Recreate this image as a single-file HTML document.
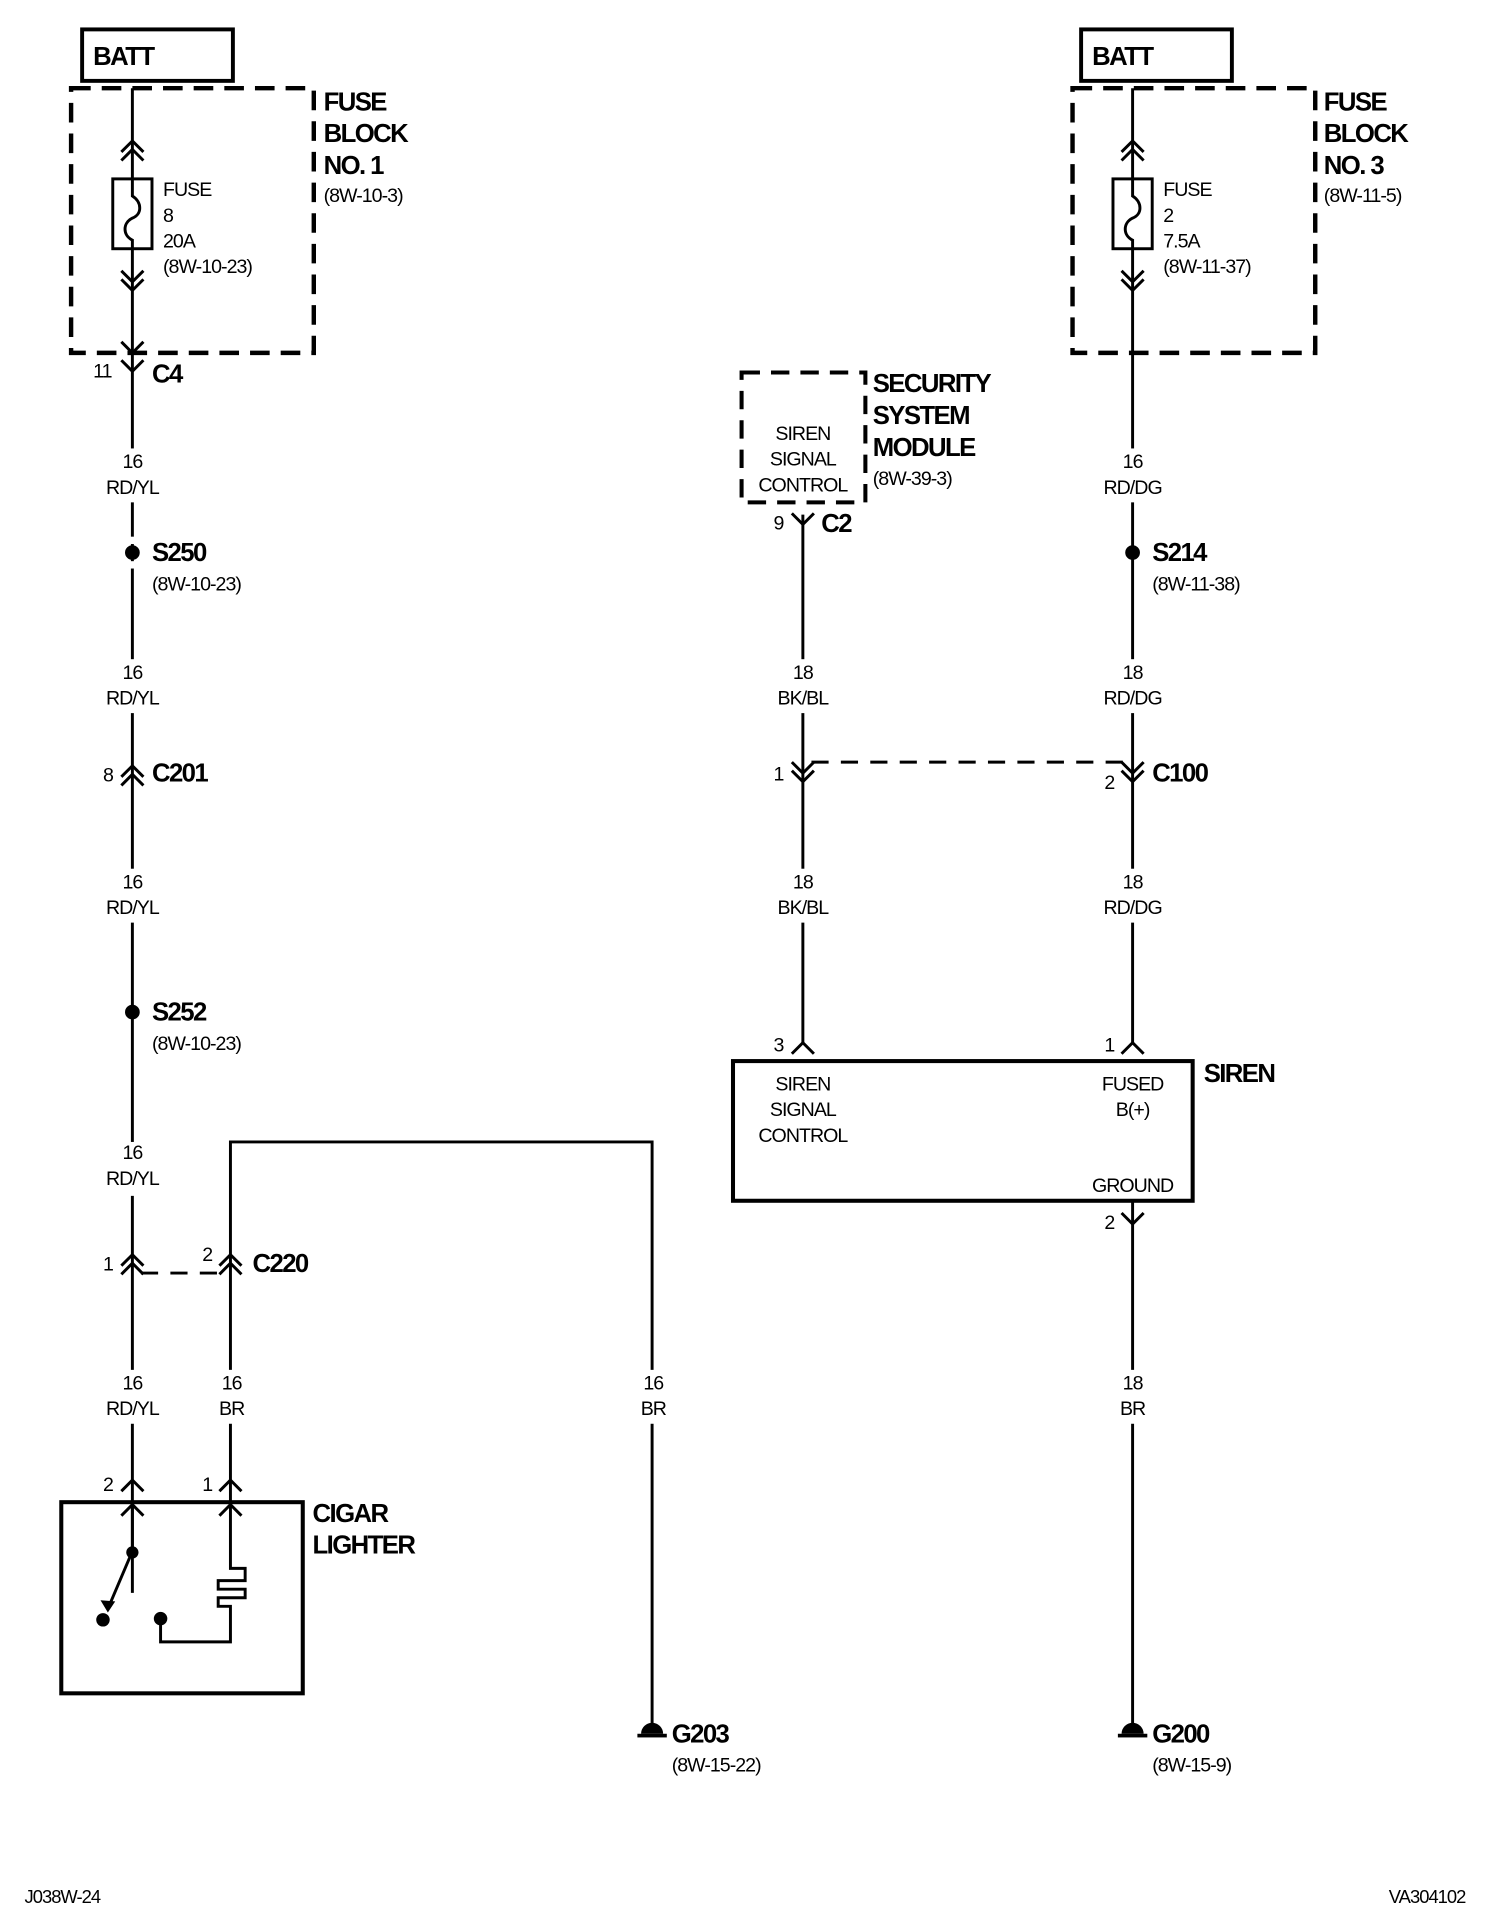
<!DOCTYPE html>
<html><head><meta charset="utf-8"><style>
html,body{margin:0;padding:0;background:#fff;}
svg{display:block;}
text{font-family:"Liberation Sans",sans-serif;fill:#000;}
.n{font-size:16px;letter-spacing:-0.8px;}
.b{font-size:21px;font-weight:bold;letter-spacing:-1.3px;}
.c{text-anchor:middle;}
</style></head><body>
<svg width="1504" height="1920" viewBox="0 0 1227 1567" preserveAspectRatio="none" xmlns="http://www.w3.org/2000/svg">
<g fill="none" stroke="#000" stroke-width="2.4">
<path d="M108 72 V1300"/>
<path d="M188 1228 V932 H532 V1410"/>
<path d="M655 420 V851"/>
<path d="M924 72 V851"/>
<path d="M924 980 V1410"/>
<rect x="92" y="146" width="32" height="57" fill="#fff"/>
<rect x="908" y="146" width="32" height="57" fill="#fff"/>
<path d="M108 146 V160 C116 165 116 175 108 178 C100 182 100 192 108 196 V203"/>
<path d="M924 146 V160 C932 165 932 175 924 178 C916 182 916 192 924 196 V203"/>
<path d="M99 124 L108 115 L117 124 M99 131 L108 122 L117 131"/>
<path d="M99 221 L108 230 L117 221 M99 228 L108 237 L117 228"/>
<path d="M99 279 L108 288 L117 279"/>
<path d="M99 294 L108 303 L117 294"/>
<path d="M915 124 L924 115 L933 124 M915 131 L924 122 L933 131"/>
<path d="M915 221 L924 230 L933 221 M915 228 L924 237 L933 228"/>
<path d="M99 634 L108 625 L117 634 M99 641 L108 632 L117 641"/>
<path d="M99 1033 L108 1024 L117 1033 M99 1040 L108 1031 L117 1040"/>
<path d="M179 1033 L188 1024 L197 1033 M179 1040 L188 1031 L197 1040"/>
<path d="M646 622 L655 631 L664 622 M646 629 L655 638 L664 629"/>
<path d="M915 622 L924 631 L933 622 M915 629 L924 638 L933 629"/>
<path d="M646 419 L655 428 L664 419"/>
<path d="M646 860 L655 851 L664 860 M915 860 L924 851 L933 860"/>
<path d="M915 990 L924 999 L933 990"/>
<path d="M99 1217 L108 1208 L117 1217 M179 1217 L188 1208 L197 1217"/>
<path d="M99 1237 L108 1228 L117 1237 M179 1237 L188 1228 L197 1237"/>
<path d="M115 1039 H182" stroke-dasharray="14 10"/>
<path d="M662 622 H917" stroke-dasharray="14 10"/>
<rect x="67" y="24" width="123" height="42" stroke-width="3.2"/>
<rect x="882" y="24" width="123" height="42" stroke-width="3.2"/>
<rect x="58" y="72" width="198" height="216" stroke-width="3.6" stroke-dasharray="16 9"/>
<rect x="875" y="72" width="198" height="216" stroke-width="3.6" stroke-dasharray="16 9"/>
<rect x="605" y="304" width="101" height="106" stroke-width="3.3" stroke-dasharray="15 9"/>
<rect x="598" y="866" width="375" height="114" stroke-width="3.3" fill="#fff"/>
<rect x="50" y="1226" width="197" height="156" stroke-width="3.3"/>
<path d="M108 1228 V1266 M108 1266 L88 1313"/>
<path d="M188 1228 V1280 H200 V1290 H178 V1297 H200 V1304 H178 V1311 H188 V1340 H131 V1321"/>
</g>
<path d="M82 1306 L88 1316 L94 1307 Z" fill="#000"/>
<circle cx="108" cy="1267" r="5"/>
<circle cx="84" cy="1322" r="5.5"/>
<circle cx="131" cy="1321" r="5.5"/>
<circle cx="108" cy="451" r="6"/>
<circle cx="108" cy="826" r="6"/>
<circle cx="924" cy="451" r="6"/>
<path d="M523 1415 A9 9 0 0 1 541 1415 Z"/><rect x="520" y="1415" width="24" height="3"/>
<path d="M915 1415 A9 9 0 0 1 933 1415 Z"/><rect x="912" y="1415" width="24" height="3"/>
<g fill="#fff">
<rect x="80" y="366" width="56" height="44"/><rect x="80" y="538" width="56" height="44"/>
<rect x="80" y="709" width="56" height="44"/><rect x="80" y="932" width="56" height="44"/>
<rect x="80" y="1118" width="56" height="44"/><rect x="172" y="1118" width="32" height="44"/>
<rect x="516" y="1118" width="32" height="44"/>
<rect x="896" y="366" width="56" height="44"/><rect x="896" y="538" width="56" height="44"/>
<rect x="896" y="709" width="56" height="44"/><rect x="896" y="1118" width="56" height="44"/>
<rect x="627" y="538" width="56" height="44"/><rect x="627" y="709" width="56" height="44"/>
<rect x="100" y="438" width="16" height="6"/><rect x="100" y="458" width="16" height="6"/>
</g>
<text class="b" x="76" y="53">BATT</text>
<text class="b" x="891" y="53">BATT</text>
<text class="b" x="264" y="90">FUSE</text><text class="b" x="264" y="116">BLOCK</text><text class="b" x="264" y="142">NO. 1</text>
<text class="n" x="264" y="165">(8W-10-3)</text>
<text class="b" x="1080" y="90">FUSE</text><text class="b" x="1080" y="116">BLOCK</text><text class="b" x="1080" y="142">NO. 3</text>
<text class="n" x="1080" y="165">(8W-11-5)</text>
<text class="n" x="133" y="160">FUSE</text><text class="n" x="133" y="181">8</text><text class="n" x="133" y="202">20A</text><text class="n" x="133" y="223">(8W-10-23)</text>
<text class="n" x="949" y="160">FUSE</text><text class="n" x="949" y="181">2</text><text class="n" x="949" y="202">7.5A</text><text class="n" x="949" y="223">(8W-11-37)</text>
<text class="n" x="76" y="308">11</text><text class="b" x="124" y="312">C4</text>
<text class="n c" x="108" y="382">16</text><text class="n c" x="108" y="403">RD/YL</text>
<text class="n c" x="108" y="554">16</text><text class="n c" x="108" y="575">RD/YL</text>
<text class="n c" x="108" y="725">16</text><text class="n c" x="108" y="746">RD/YL</text>
<text class="n c" x="108" y="946">16</text><text class="n c" x="108" y="967">RD/YL</text>
<text class="n c" x="108" y="1134">16</text><text class="n c" x="108" y="1155">RD/YL</text>
<text class="n c" x="189" y="1134">16</text><text class="n c" x="189" y="1155">BR</text>
<text class="n c" x="533" y="1134">16</text><text class="n c" x="533" y="1155">BR</text>
<text class="n c" x="924" y="382">16</text><text class="n c" x="924" y="403">RD/DG</text>
<text class="n c" x="924" y="554">18</text><text class="n c" x="924" y="575">RD/DG</text>
<text class="n c" x="924" y="725">18</text><text class="n c" x="924" y="746">RD/DG</text>
<text class="n c" x="924" y="1134">18</text><text class="n c" x="924" y="1155">BR</text>
<text class="n c" x="655" y="554">18</text><text class="n c" x="655" y="575">BK/BL</text>
<text class="n c" x="655" y="725">18</text><text class="n c" x="655" y="746">BK/BL</text>
<text class="n c" x="655" y="359">SIREN</text><text class="n c" x="655" y="380">SIGNAL</text><text class="n c" x="655" y="401">CONTROL</text>
<text class="n c" x="655" y="890">SIREN</text><text class="n c" x="655" y="911">SIGNAL</text><text class="n c" x="655" y="932">CONTROL</text>
<text class="n c" x="924" y="890">FUSED</text><text class="n c" x="924" y="911">B(+)</text>
<text class="n c" x="924" y="973">GROUND</text>
<text class="b" x="124" y="458">S250</text><text class="n" x="124" y="482">(8W-10-23)</text>
<text class="n" x="84" y="638">8</text><text class="b" x="124" y="638">C201</text>
<text class="b" x="124" y="833">S252</text><text class="n" x="124" y="857">(8W-10-23)</text>
<text class="n" x="84" y="1037">1</text><text class="n" x="165" y="1029">2</text><text class="b" x="206" y="1038">C220</text>
<text class="n" x="84" y="1217">2</text><text class="n" x="165" y="1217">1</text>
<text class="b" x="255" y="1242">CIGAR</text><text class="b" x="255" y="1268">LIGHTER</text>
<text class="b" x="548" y="1422">G203</text><text class="n" x="548" y="1446">(8W-15-22)</text>
<text class="b" x="712" y="320">SECURITY</text><text class="b" x="712" y="346">SYSTEM</text><text class="b" x="712" y="372">MODULE</text>
<text class="n" x="712" y="396">(8W-39-3)</text>
<text class="n" x="631" y="432">9</text><text class="b" x="670" y="434">C2</text>
<text class="b" x="940" y="458">S214</text><text class="n" x="940" y="482">(8W-11-38)</text>
<text class="n" x="631" y="637">1</text><text class="n" x="901" y="644">2</text><text class="b" x="940" y="638">C100</text>
<text class="n" x="631" y="858">3</text><text class="n" x="901" y="858">1</text>
<text class="b" x="982" y="883">SIREN</text>
<text class="n" x="901" y="1003">2</text>
<text class="b" x="940" y="1422">G200</text><text class="n" x="940" y="1446">(8W-15-9)</text>
<text class="n" x="20" y="1553" style="font-size:15px">J038W-24</text>
<text class="n" x="1133" y="1553" style="font-size:15px">VA304102</text>
</svg>
</body></html>
